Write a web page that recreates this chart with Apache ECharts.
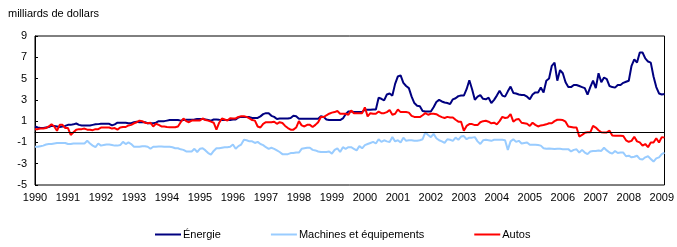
<!DOCTYPE html>
<html>
<head>
<meta charset="utf-8">
<script src="https://cdn.jsdelivr.net/npm/echarts@6/dist/echarts.min.js"></script>
<style>
html,body{margin:0;padding:0;background:#fff;}
#chart{width:677px;height:247px;}
</style>
</head>
<body>
<div id="chart"></div>
<script>
// Monthly categories, Jan 1990 .. Feb 2009
var startYear = 1990, endYear = 2009, lastMonth = 2;
var categories = [];
for (var y = startYear; y <= endYear; y++) {
  for (var m = 1; m <= 12; m++) {
    if (y === endYear && m > lastMonth) break;
    categories.push(y + '-' + (m < 10 ? '0' + m : m));
  }
}

var energie = [
  0.5,0.4,0.35,0.35,0.4,0.45,0.55,0.55,0.5,0.45,0.5,0.55,
  0.65,0.65,0.7,0.78,0.65,0.6,0.6,0.6,0.6,0.65,0.7,0.72,
  0.75,0.75,0.75,0.75,0.6,0.7,0.85,0.85,0.85,0.85,0.8,0.8,
  0.9,0.95,0.9,0.9,0.9,0.8,0.8,0.8,0.85,1.0,1.0,1.0,
  1.05,1.1,1.1,1.1,1.1,1.05,1.1,1.12,1.12,1.12,1.15,1.2,
  1.2,1.2,1.15,1.1,1.05,1.15,1.15,1.12,1.1,1.1,1.1,1.1,
  1.15,1.15,1.35,1.4,1.4,1.38,1.38,1.3,1.3,1.3,1.45,1.66,
  1.75,1.75,1.5,1.4,1.2,1.25,1.25,1.25,1.25,1.3,1.5,1.45,
  1.22,1.22,1.22,1.22,1.22,1.22,1.22,1.22,1.45,1.4,1.15,1.1,
  1.1,1.1,1.1,1.1,1.25,1.65,1.9,1.9,1.85,1.85,1.85,1.85,
  2.07,2.07,2.07,2.1,2.1,3.2,3.1,2.95,3.5,3.6,3.4,4.5,
  5.2,5.3,4.6,4.3,4.1,3.3,2.7,2.45,2.4,1.95,1.9,1.9,
  1.9,2.3,2.8,3.0,2.85,2.75,2.7,2.6,3.05,3.15,3.35,3.4,
  3.4,4.0,4.85,4.0,3.0,3.3,3.45,3.1,3.05,3.2,2.7,3.0,
  3.4,3.85,3.4,3.3,3.8,4.25,3.65,3.6,3.5,3.45,3.45,3.3,
  3.05,3.5,3.7,3.7,4.15,3.7,4.8,5.0,6.2,6.5,4.8,5.8,
  5.5,4.65,4.2,4.2,4.4,4.4,4.3,4.2,4.1,3.5,4.2,4.8,
  4.1,5.5,4.65,5.1,4.95,4.3,4.2,4.15,4.4,4.4,4.6,4.7,
  4.8,6.2,6.8,6.5,7.45,7.45,6.9,6.6,6.5,5.2,4.2,3.6,
  3.5,3.55
];

var machines = [
  -1.4,-1.4,-1.35,-1.3,-1.2,-1.15,-1.15,-1.1,-1.05,-1.05,-1.05,-1.05,
  -1.15,-1.15,-1.1,-1.1,-1.1,-1.1,-1.1,-0.85,-1.1,-1.3,-1.45,-1.1,
  -1.3,-1.25,-1.2,-1.2,-1.25,-1.3,-1.3,-1.25,-0.95,-1.15,-1.0,-1.15,
  -1.4,-1.4,-1.4,-1.35,-1.35,-1.4,-1.6,-1.4,-1.4,-1.38,-1.38,-1.4,
  -1.4,-1.4,-1.45,-1.55,-1.55,-1.65,-1.7,-1.85,-1.85,-1.85,-1.6,-1.9,
  -1.6,-1.55,-1.75,-2.0,-2.15,-1.8,-1.55,-1.55,-1.5,-1.45,-1.45,-1.4,
  -1.2,-1.6,-1.35,-1.2,-0.75,-0.8,-0.9,-0.9,-1.05,-0.95,-1.15,-1.25,
  -1.45,-1.6,-1.5,-1.6,-1.75,-1.9,-2.1,-2.1,-2.1,-2.0,-2.0,-1.95,
  -1.95,-1.6,-1.55,-1.5,-1.5,-1.7,-1.75,-1.85,-1.9,-1.9,-1.9,-1.85,
  -2.05,-1.7,-1.55,-1.9,-1.45,-1.6,-1.45,-1.45,-1.6,-1.75,-1.35,-1.55,
  -1.25,-1.15,-1.05,-0.95,-1.1,-0.7,-0.95,-0.8,-0.9,-0.95,-0.5,-0.9,
  -0.8,-1.0,-0.55,-0.85,-0.8,-0.8,-0.85,-0.85,-0.8,-0.7,-0.05,-0.3,
  -0.5,-0.2,-0.6,-0.8,-0.9,-1.05,-0.7,-0.75,-0.85,-0.55,-0.75,-0.45,
  -0.4,-0.7,-0.55,-0.55,-0.5,-0.9,-1.15,-0.8,-0.75,-0.8,-0.85,-0.75,
  -0.75,-0.75,-0.75,-0.8,-1.7,-0.9,-0.7,-0.95,-0.85,-1.1,-1.05,-1.0,
  -1.22,-1.22,-1.22,-1.25,-1.3,-1.55,-1.6,-1.58,-1.6,-1.62,-1.6,-1.6,
  -1.63,-1.63,-1.63,-1.85,-1.7,-1.65,-1.95,-1.7,-1.95,-2.1,-1.85,-1.8,
  -1.8,-1.75,-1.8,-1.5,-1.75,-1.95,-2.05,-1.8,-2.0,-1.95,-1.95,-2.3,
  -2.25,-2.4,-2.35,-2.25,-2.55,-2.6,-2.4,-2.3,-2.55,-2.8,-2.5,-2.4,
  -2.1,-1.95
];

var autos = [
  0.25,0.25,0.3,0.3,0.35,0.5,0.7,0.5,0.1,0.65,0.65,0.35,
  0.35,-0.3,-0.05,0.2,0.25,0.25,0.3,0.2,0.2,0.15,0.25,0.25,
  0.4,0.4,0.4,0.4,0.3,0.35,0.2,0.4,0.45,0.45,0.6,0.65,
  0.8,0.9,1.05,1.0,0.85,0.8,0.85,0.5,0.75,0.65,0.5,0.5,
  0.45,0.43,0.43,0.43,0.5,0.9,1.25,1.0,0.9,1.05,1.05,1.05,
  1.07,1.25,1.1,1.05,0.95,0.85,0.2,0.85,1.25,1.15,1.05,1.28,
  1.25,1.25,1.4,1.45,1.45,1.4,1.25,1.1,1.05,0.5,0.4,0.75,
  0.9,0.9,0.9,0.95,0.75,0.9,0.82,0.55,0.35,0.2,0.2,0.4,
  1.0,0.6,0.5,0.65,0.65,0.45,0.65,0.9,1.38,1.38,1.55,1.7,
  1.8,1.85,1.95,1.7,1.7,1.7,1.6,2.0,1.75,1.75,1.75,1.75,
  2.3,1.45,1.75,1.7,1.7,1.9,1.75,1.75,1.85,2.05,1.6,1.7,
  2.1,1.85,1.85,1.85,1.8,1.5,1.4,1.38,1.38,1.55,1.75,1.6,
  1.7,1.7,1.65,1.5,1.38,1.3,1.4,1.35,1.35,1.13,0.95,0.95,
  0.1,0.55,0.72,0.72,0.63,0.63,0.9,1.0,1.03,0.95,0.8,0.85,
  0.7,1.0,1.4,1.3,1.35,1.66,0.95,1.15,1.2,0.85,0.8,0.75,
  0.55,0.85,0.65,0.5,0.6,0.63,0.7,0.8,0.8,1.0,1.13,1.13,
  1.1,0.95,0.5,0.45,0.4,0.4,-0.45,-0.3,-0.1,-0.05,-0.05,0.55,
  0.4,0.15,-0.05,-0.06,-0.06,0.1,-0.35,-0.38,-0.38,-0.38,-0.4,-0.8,
  -0.94,-0.85,-0.47,-0.9,-1.0,-1.3,-1.15,-1.45,-1.0,-1.0,-0.6,-1.0,
  -0.5,-0.55
];

var seriesNames = ['Énergie', 'Machines et équipements', 'Autos'];
var yMin = -5, yMax = 9, yStep = 2;

var font = 'Arial, "Liberation Sans", Helvetica, sans-serif';
var chart = echarts.init(document.getElementById('chart'), null, {renderer: 'canvas'});
chart.setOption({
  animation: false,
  backgroundColor: '#fff',
  title: {
    text: 'milliards de dollars',
    left: 3, top: 3,
    textStyle: {fontFamily: font, fontSize: 11, fontWeight: 'normal', color: '#000'}
  },
  legend: {
    data: seriesNames,
    left: 150, top: 224,
    icon: 'rect',
    itemWidth: 26, itemHeight: 2,
    itemGap: 50,
    textStyle: {fontFamily: font, fontSize: 11, color: '#000', padding: [0, 0, 0, -3]}
  },
  grid: {
    left: 35, right: 9, top: 36, bottom: 62,
    show: true, borderColor: '#000', borderWidth: 1, backgroundColor: 'transparent'
  },
  xAxis: {
    type: 'category',
    data: categories,
    boundaryGap: false,
    axisLine: {show: true, lineStyle: {color: '#000', width: 1}},
    axisTick: {show: false},
    splitLine: {show: false},
    axisLabel: {
      interval: function (i, v) { return v.slice(5) === '01'; },
      formatter: function (v) { return v.slice(0, 4); },
      fontFamily: font, fontSize: 11, color: '#000', margin: 7
    }
  },
  yAxis: {
    type: 'value',
    min: yMin, max: yMax, interval: yStep,
    axisLine: {show: true, lineStyle: {color: '#000', width: 1}},
    axisTick: {show: true, inside: true, length: 3, lineStyle: {color: '#000'}},
    splitLine: {show: false},
    axisLabel: {fontFamily: font, fontSize: 11, color: '#000', margin: 8}
  },
  series: [
    {
      name: seriesNames[1], type: 'line', data: machines, showSymbol: false, symbol: 'none',
      lineStyle: {color: '#99CCFF', width: 2}, itemStyle: {color: '#99CCFF'}, z: 2,
      markLine: {
        silent: true, symbol: 'none', label: {show: false},
        lineStyle: {color: '#000', width: 1, type: 'solid'},
        data: [{yAxis: 0}]
      }
    },
    {
      name: seriesNames[0], type: 'line', data: energie, showSymbol: false, symbol: 'none',
      lineStyle: {color: '#000080', width: 2}, itemStyle: {color: '#000080'}, z: 3
    },
    {
      name: seriesNames[2], type: 'line', data: autos, showSymbol: false, symbol: 'none',
      lineStyle: {color: '#FF0000', width: 2}, itemStyle: {color: '#FF0000'}, z: 4
    }
  ]
});
</script>
</body>
</html>
